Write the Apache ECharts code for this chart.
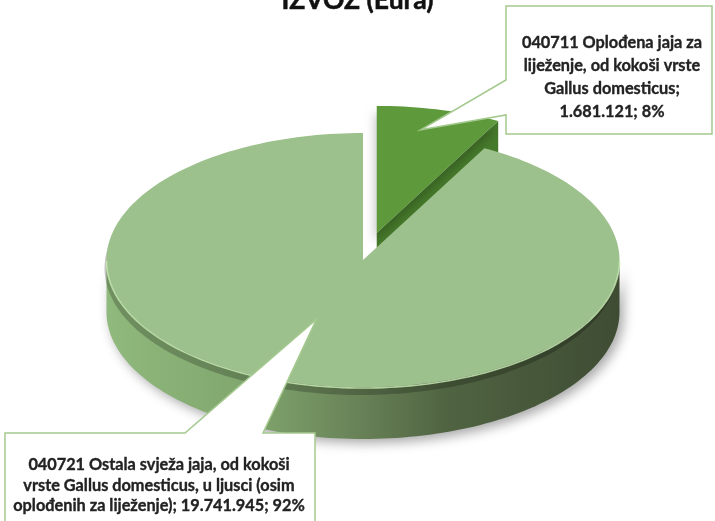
<!DOCTYPE html>
<html>
<head>
<meta charset="utf-8">
<script src="https://cdn.jsdelivr.net/npm/echarts@6/dist/echarts.min.js"></script>
<style>
  html, body { margin: 0; padding: 0; background: #ffffff; }
  #chart { width: 715px; height: 521px; }
</style>
</head>
<body>
<div id="chart"></div>
<script>
// Export value of eggs by tariff heading (EUR)
const titleText = 'IZVOZ (Eura)';
const categories = [
  '040711 Oplođena jaja za\nliježenje, od kokoši vrste\nGallus domesticus',
  '040721 Ostala svježa jaja, od kokoši\nvrste Gallus domesticus, u ljusci (osim\noplođenih za liježenje)'
];
const values = [1681121, 19741945];

// Styling
const FONT = 'Lato, "Noto Sans", sans-serif';
const topColors = ['#5e9a3c', '#9dc18c'];
const sideWallColors = ['#467a2b', '#6f9a5c'];
const outerWallStops = [
  [[0, '#4f8a30'], [1, '#2f5a1c']],
  [[0, '#90b97d'], [0.28, '#80a66d'], [0.48, '#6a8459'], [0.66, '#506442'], [1, '#3e4c33']]
];

// 3D pie geometry (pixels)
const CX = 363, CY = 260, RX = 256.5, RY = 127, DEPTH = 52;
const explode = [0.22, 0];

// Callout boxes: box = [x, y, w, h]; base = where the pointer leaves the box
const callouts = [
  { box: [506, 6, 206, 128], side: 'left', base: [80, 115], tipR: 0.83, tipDA: -2.2, textX: 612, textY: 77.5, lineHeight: 23 },
  { box: [5, 433, 310, 110], side: 'top', base: [185, 263], tipR: 0.5, tipDA: 7.1, textX: 159, textY: 485.5, lineHeight: 20.5 }
];
const separators = [[';\n', '; '], ['; ', '; ']];

const total = values.reduce((a, b) => a + b, 0);

function fmtNumber(v) {
  return String(v).replace(/\B(?=(\d{3})+(?!\d))/g, '.');
}

function pt(cx, cy, th, r, dz) {
  return [cx + RX * r * Math.sin(th), cy - RY * r * Math.cos(th) + (dz || 0)];
}

function arc(cx, cy, a, b, dz) {
  const n = Math.max(2, Math.ceil(Math.abs(b - a) / (Math.PI / 120)));
  const pts = [];
  for (let k = 0; k <= n; k++) {
    pts.push(pt(cx, cy, a + (b - a) * k / n, 1, dz));
  }
  return pts;
}

function renderSlice(params, api) {
  const i = params.dataIndex;
  let before = 0;
  for (let k = 0; k < i; k++) before += values[k];
  const v = api.value(0);
  const a0 = before / total * Math.PI * 2;
  const a1 = a0 + v / total * Math.PI * 2;
  const mid = (a0 + a1) / 2;
  const cx = CX + explode[i] * RX * Math.sin(mid);
  const cy = CY - explode[i] * RY * Math.cos(mid);
  const children = [];

  // radial side walls that face the viewer
  const radialWall = (a) => {
    const rimTop = pt(cx, cy, a, 1, 0);
    return {
      type: 'polygon',
      z2: 1,
      shape: { points: [[cx, cy], rimTop, [rimTop[0], rimTop[1] + DEPTH], [cx, cy + DEPTH]] },
      style: { fill: sideWallColors[i] }
    };
  };
  if (Math.sin(a0) < -1e-6) children.push(radialWall(a0));
  if (Math.sin(a1) > 1e-6) children.push(radialWall(a1));

  // curved outer wall (front half only)
  const s = Math.max(a0, Math.PI / 2), e = Math.min(a1, Math.PI * 1.5);
  if (e > s) {
    const pts = arc(cx, cy, s, e, 0).concat(arc(cx, cy, e, s, DEPTH));
    children.push({
      type: 'polygon',
      z2: 1,
      shape: { points: pts },
      style: {
        fill: new echarts.graphic.LinearGradient(cx - RX, 0, cx + RX, 0,
          outerWallStops[i].map(st => ({ offset: st[0], color: st[1] })), true),
        shadowBlur: 12,
        shadowColor: 'rgba(0,0,0,0.35)',
        shadowOffsetX: 4,
        shadowOffsetY: 4
      }
    });
  }

  // top face
  children.push({
    type: 'polygon',
    z2: 2,
    shape: { points: [[cx, cy]].concat(arc(cx, cy, a0, a1, 0)) },
    style: {
      fill: topColors[i],
      shadowBlur: i === 0 ? 10 : 0,
      shadowColor: 'rgba(0,0,0,0.22)',
      shadowOffsetX: -2,
      shadowOffsetY: 8
    }
  });

  // light bevel along the front rim
  if (e > s) {
    children.push({
      type: 'polyline',
      z2: 3,
      shape: { points: arc(cx, cy, s, e, 1) },
      style: { stroke: 'rgba(196,232,176,0.85)', lineWidth: 1.6, fill: null }
    });
  }

  // callout with pointer to the slice
  const c = callouts[i];
  const tip = pt(cx, cy, mid + c.tipDA * Math.PI / 180, c.tipR, 0);
  const [bx, by, bw, bh] = c.box;
  let pts;
  if (c.side === 'left') {
    pts = [[bx, by], [bx + bw, by], [bx + bw, by + bh], [bx, by + bh], [bx, c.base[1]], tip, [bx, c.base[0]]];
  } else {
    pts = [[bx, by], [c.base[0], by], tip, [c.base[1], by], [bx + bw, by], [bx + bw, by + bh], [bx, by + bh]];
  }
  children.push({
    type: 'polygon',
    z2: 50,
    shape: { points: pts },
    style: { fill: '#ffffff', stroke: '#a4c98e', lineWidth: 1.5, lineJoin: 'miter' }
  });
  const pct = Math.round(v / total * 100) + '%';
  children.push({
    type: 'text',
    z2: 51,
    style: {
      x: c.textX,
      y: c.textY,
      text: categories[i] + separators[i][0] + fmtNumber(v) + separators[i][1] + pct,
      align: 'center',
      verticalAlign: 'middle',
      fontFamily: FONT,
      fontSize: 16.3,
      fontWeight: 'bold',
      lineHeight: c.lineHeight,
      fill: '#222222',
      stroke: '#222222',
      lineWidth: 0.35
    }
  });

  return { type: 'group', children: children };
}

const chart = echarts.init(document.getElementById('chart'), null, { renderer: 'canvas' });
chart.setOption({
  backgroundColor: '#ffffff',
  animation: false,
  title: {
    text: titleText,
    left: 'center',
    top: -18,
    textStyle: {
      fontFamily: FONT, fontSize: 26.5, fontWeight: 'bold', color: '#111111',
      textBorderColor: '#111111', textBorderWidth: 0.5
    }
  },
  series: [{
    type: 'custom',
    coordinateSystem: 'none',
    renderItem: renderSlice,
    data: values.map(v => [v])
  }]
});
</script>
</body>
</html>
